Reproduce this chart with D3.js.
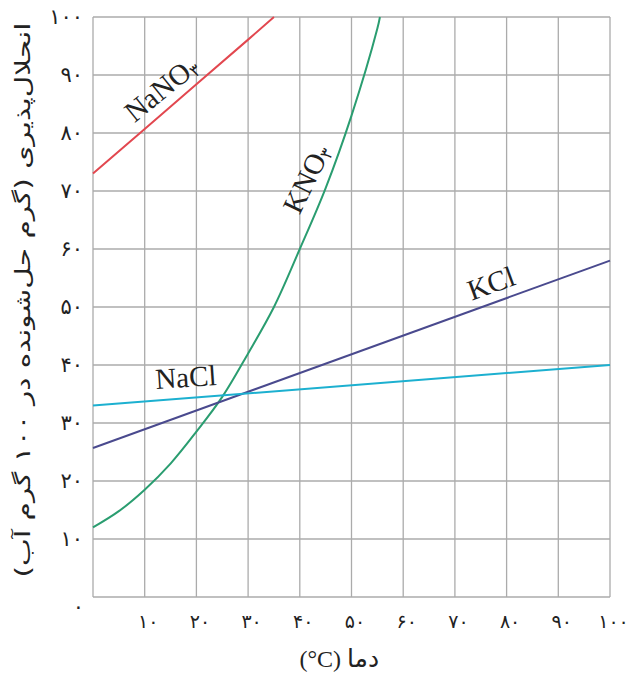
<!DOCTYPE html>
<html><head><meta charset="utf-8">
<script src="https://d3js.org/d3.v7.min.js"></script>
<style>body{margin:0;background:#fff}</style>
</head><body>
<script>
const xTicks = [10,20,30,40,50,60,70,80,90,100];
const yTicks = [10,20,30,40,50,60,70,80,90,100];
const nano3 = [[0,73],[10,80.7],[20,88.4],[30,96.1],[35,100]];
const kno3 = [[0,12],[5,14.8],[10,18.5],[15,23],[20,28.5],[25,34.5],[30,42],[35,50],[40,60],[45,70.5],[50,83],[55,98],[55.5,100]];
const kcl = [[0,25.7],[100,58]];
const nacl = [[0,33],[100,40]];
const seriesNames = ["NaNO","KNO","KCl","NaCl"];

const W=628,H=673;
const svg=d3.select("body").append("svg").attr("width",W).attr("height",H);
const x=d3.scaleLinear().domain([0,100]).range([93,610]);
const y=d3.scaleLinear().domain([0,100]).range([597,17]);
const fa = d=>String(d).replace(/\d/g,c=>"۰۱۲۳۴۵۶۷۸۹"[+c]);
const faFont="'DejaVu Sans', sans-serif";
const grid="#ababab";

// gridlines
svg.append("g").selectAll("line").data([0,...xTicks]).join("line")
 .attr("x1",d=>x(d)).attr("x2",d=>x(d)).attr("y1",y(0)).attr("y2",y(100))
 .attr("stroke",grid).attr("stroke-width",1.3);
svg.append("g").selectAll("line").data([0,...yTicks]).join("line")
 .attr("y1",d=>y(d)).attr("y2",d=>y(d)).attr("x1",x(0)).attr("x2",x(100))
 .attr("stroke",grid).attr("stroke-width",1.3);

// axes labels
const ya=svg.append("g").attr("transform",`translate(${x(0)-10},0)`)
 .call(d3.axisLeft(y).tickValues(yTicks).tickFormat(fa).tickSize(0).tickPadding(0));
ya.select(".domain").remove();
ya.selectAll("text").attr("font-family",faFont).attr("font-size",21).attr("fill","#222");
const xa=svg.append("g").attr("transform",`translate(0,${y(0)+17})`)
 .call(d3.axisBottom(x).tickValues(xTicks).tickFormat(fa).tickSize(0).tickPadding(0));
xa.select(".domain").remove();
xa.selectAll("text").attr("font-family",faFont).attr("font-size",19).attr("fill","#222").attr("dx",3);
svg.append("text").attr("x",x(0)-9).attr("y",y(0)+17).attr("text-anchor","end")
 .attr("font-family",faFont).attr("font-size",21).attr("fill","#222").text(fa(0));

// titles
const serif="'Liberation Serif', 'Times New Roman', serif";
svg.append("text").attr("x",341).attr("y",667).attr("text-anchor","end")
 .attr("font-family",serif).attr("font-size",24).attr("fill","#222").text("(°C)");
svg.append("text").attr("x",347).attr("y",667).attr("text-anchor","start")
 .attr("direction","ltr").attr("font-family",faFont).attr("font-size",25).attr("fill","#222")
 .text("دما");
svg.append("text").attr("transform","translate(30,300) rotate(-90)").attr("text-anchor","middle")
 .attr("direction","rtl").attr("font-family",faFont).attr("font-size",21).attr("fill","#222")
 .attr("textLength",555).attr("lengthAdjust","spacingAndGlyphs")
 .text("انحلال‌پذیری (گرم حل‌شونده در ۱۰۰ گرم آب)");

// lines
const line=d3.line().x(d=>x(d[0])).y(d=>y(d[1]));
const curve=d3.line().x(d=>x(d[0])).y(d=>y(d[1])).curve(d3.curveCatmullRom.alpha(0.5));
svg.append("path").attr("d",line(nano3)).attr("fill","none").attr("stroke","#e2474f").attr("stroke-width",2);
svg.append("path").attr("d",curve(kno3)).attr("fill","none").attr("stroke","#2a9d70").attr("stroke-width",2);
svg.append("path").attr("d",line(kcl)).attr("fill","none").attr("stroke","#4a4a8e").attr("stroke-width",2);
svg.append("path").attr("d",line(nacl)).attr("fill","none").attr("stroke","#1cb0d0").attr("stroke-width",2);

// series labels
function lab(cx,cy,ang,txt,sub){
  const t=svg.append("text").attr("transform",`translate(${cx},${cy}) rotate(${ang})`)
   .attr("text-anchor","middle").attr("dominant-baseline","middle")
   .attr("font-family",serif).attr("font-size",29).attr("fill","#222");
  t.append("tspan").text(txt);
  if(sub) t.append("tspan").attr("font-family",faFont).attr("font-size",17).attr("dy",5).text(sub);
}
lab(163,91,-39,seriesNames[0],"۳");
lab(309,180,-64,seriesNames[1],"۳");
lab(492,286,-20,seriesNames[2]);
lab(186,380,-4,seriesNames[3]);
</script>
</body></html>
